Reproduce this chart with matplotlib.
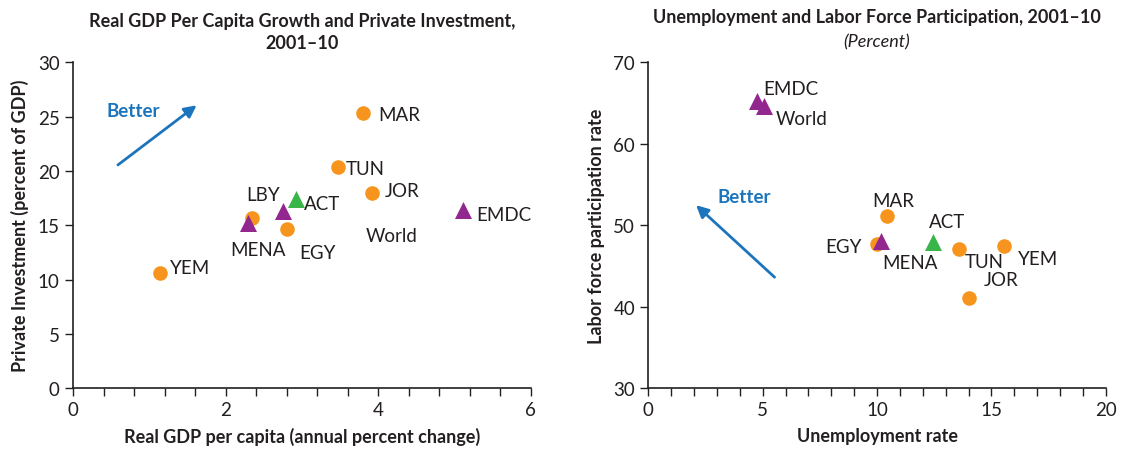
import matplotlib
matplotlib.use("Agg")
import matplotlib.pyplot as plt
import numpy as np

plt.rcParams['font.family'] = ['Lato', 'DejaVu Sans']

ORANGE = '#F7941D'
PURPLE = '#92278F'
GREEN = '#39B54A'
BLUE = '#1C75BC'
TXT = '#231F20'

# ---- left panel: growth vs investment ----
gdp_names = ['MAR', 'TUN', 'JOR', 'LBY', 'EGY', 'YEM']
gdp_x = [3.80, 3.47, 3.92, 2.35, 2.80, 1.14]
gdp_y = [25.3, 20.4, 18.0, 15.7, 14.7, 10.6]
gdp_agg_names = ['EMDC', 'MENA', 'World']
gdp_agg_x = [5.12, 2.30, 2.75]
gdp_agg_y = [16.4, 15.2, 16.3]
gdp_act_x = [2.92]
gdp_act_y = [17.4]

# label anchor points (data coords)
gdp_lbl = {
    'MAR': (4.00, 25.2, 'left'), 'TUN': (3.58, 20.2, 'left'),
    'JOR': (4.09, 18.2, 'left'), 'LBY': (2.49, 17.8, 'center'),
    'EGY': (2.97, 12.5, 'left'), 'YEM': (1.27, 11.1, 'left'),
    'EMDC': (5.29, 16.0, 'left'), 'MENA': (2.43, 12.8, 'center'),
    'World': (3.84, 14.1, 'left'), 'ACT': (3.03, 17.0, 'left'),
}

# ---- right panel: unemployment vs participation ----
lab_names = ['MAR', 'EGY', 'TUN', 'YEM', 'JOR']
lab_x = [10.42, 10.0, 13.59, 15.54, 14.0]
lab_y = [51.2, 47.7, 47.05, 47.45, 41.1]
lab_agg_names = ['EMDC', 'World', 'MENA']
lab_agg_x = [4.74, 5.07, 10.17]
lab_agg_y = [65.3, 64.6, 48.1]
lab_act_x = [12.46]
lab_act_y = [47.9]

lab_lbl = {
    'EMDC': (5.03, 66.8, 'left'), 'World': (5.57, 63.1, 'left'),
    'MAR': (10.73, 53.0, 'center'), 'ACT': (13.05, 50.5, 'center'),
    'EGY': (9.33, 47.4, 'right'), 'MENA': (10.23, 45.4, 'left'),
    'TUN': (13.82, 45.5, 'left'), 'YEM': (16.15, 45.9, 'left'),
    'JOR': (14.68, 43.3, 'left'),
}

fig = plt.figure(figsize=(11.25, 4.56), dpi=100)
ax1 = fig.add_axes([73/1125, 1-389.3/456, 457.5/1125, 326/456])
ax2 = fig.add_axes([648.3/1125, 1-389.3/456, 457.5/1125, 326/456])


def style(ax):
    for s in ['top', 'right']:
        ax.spines[s].set_visible(False)
    for s in ['left', 'bottom']:
        ax.spines[s].set_color(TXT)
        ax.spines[s].set_linewidth(1.2)
    ax.tick_params(which='both', direction='out', length=6, width=1.0,
                   colors=TXT, labelsize=13.5, labelcolor=TXT)
    ax.tick_params(which='minor', length=6)


def points(ax, xs, ys, color, marker, size):
    ax.scatter(xs, ys, s=size, c=color, marker=marker, linewidths=0, zorder=3, clip_on=False)


# left
style(ax1)
points(ax1, gdp_x, gdp_y, ORANGE, 'o', 110)
points(ax1, gdp_agg_x, gdp_agg_y, PURPLE, '^', 150)
points(ax1, gdp_act_x, gdp_act_y, GREEN, '^', 150)
for k, (x, y, ha) in gdp_lbl.items():
    ax1.text(x, y, k, ha=ha, va='center', fontsize=13.5, color=TXT)
ax1.set_xlim(0, 6)
ax1.set_ylim(0, 30)
ax1.set_xticks([0, 2, 4, 6])
ax1.set_xticks(np.arange(0, 6.01, 0.4), minor=True)
ax1.set_yticks(np.arange(0, 31, 5))
ax1.annotate('', xy=(1.65, 26.2), xytext=(0.56, 20.4),
             arrowprops=dict(arrowstyle='-|>', color=BLUE, lw=2, mutation_scale=18))
ax1.text(0.44, 25.6, 'Better', color=BLUE, fontsize=13.5, fontweight='bold', va='center')
ax1.set_xlabel('Real GDP per capita (annual percent change)', fontsize=13,
               fontweight='bold', color=TXT, labelpad=6)
ax1.set_ylabel('Private Investment (percent of GDP)', fontsize=13,
               fontweight='bold', color=TXT, labelpad=6)
ax1.set_title('Real GDP Per Capita Growth and Private Investment,\n2001\u201310',
              fontsize=13, fontweight='bold', color=TXT, pad=10, linespacing=1.4)

# right
style(ax2)
points(ax2, lab_x, lab_y, ORANGE, 'o', 110)
points(ax2, lab_agg_x, lab_agg_y, PURPLE, '^', 150)
points(ax2, lab_act_x, lab_act_y, GREEN, '^', 150)
for k, (x, y, ha) in lab_lbl.items():
    ax2.text(x, y, k, ha=ha, va='center', fontsize=13.5, color=TXT)
ax2.set_xlim(0, 20)
ax2.set_ylim(30, 70)
ax2.set_xticks([0, 5, 10, 15, 20])
ax2.set_xticks(np.arange(0, 20.1, 1), minor=True)
ax2.set_yticks(np.arange(30, 71, 10))
ax2.annotate('', xy=(2.0, 52.7), xytext=(5.61, 43.4),
             arrowprops=dict(arrowstyle='-|>', color=BLUE, lw=2, mutation_scale=18))
ax2.text(3.03, 53.5, 'Better', color=BLUE, fontsize=13.5, fontweight='bold', va='center')
ax2.set_xlabel('Unemployment rate', fontsize=13, fontweight='bold', color=TXT, labelpad=6)
ax2.set_ylabel('Labor force participation rate', fontsize=13,
               fontweight='bold', color=TXT, labelpad=6)
ax2.text(0.5, 1.125, 'Unemployment and Labor Force Participation, 2001\u201310',
         transform=ax2.transAxes, ha='center', fontsize=13, fontweight='bold', color=TXT)
ax2.text(0.5, 1.05, '(Percent)', transform=ax2.transAxes, ha='center',
         fontsize=13, fontstyle='italic', color=TXT)

fig.savefig('out.png', dpi=100)
